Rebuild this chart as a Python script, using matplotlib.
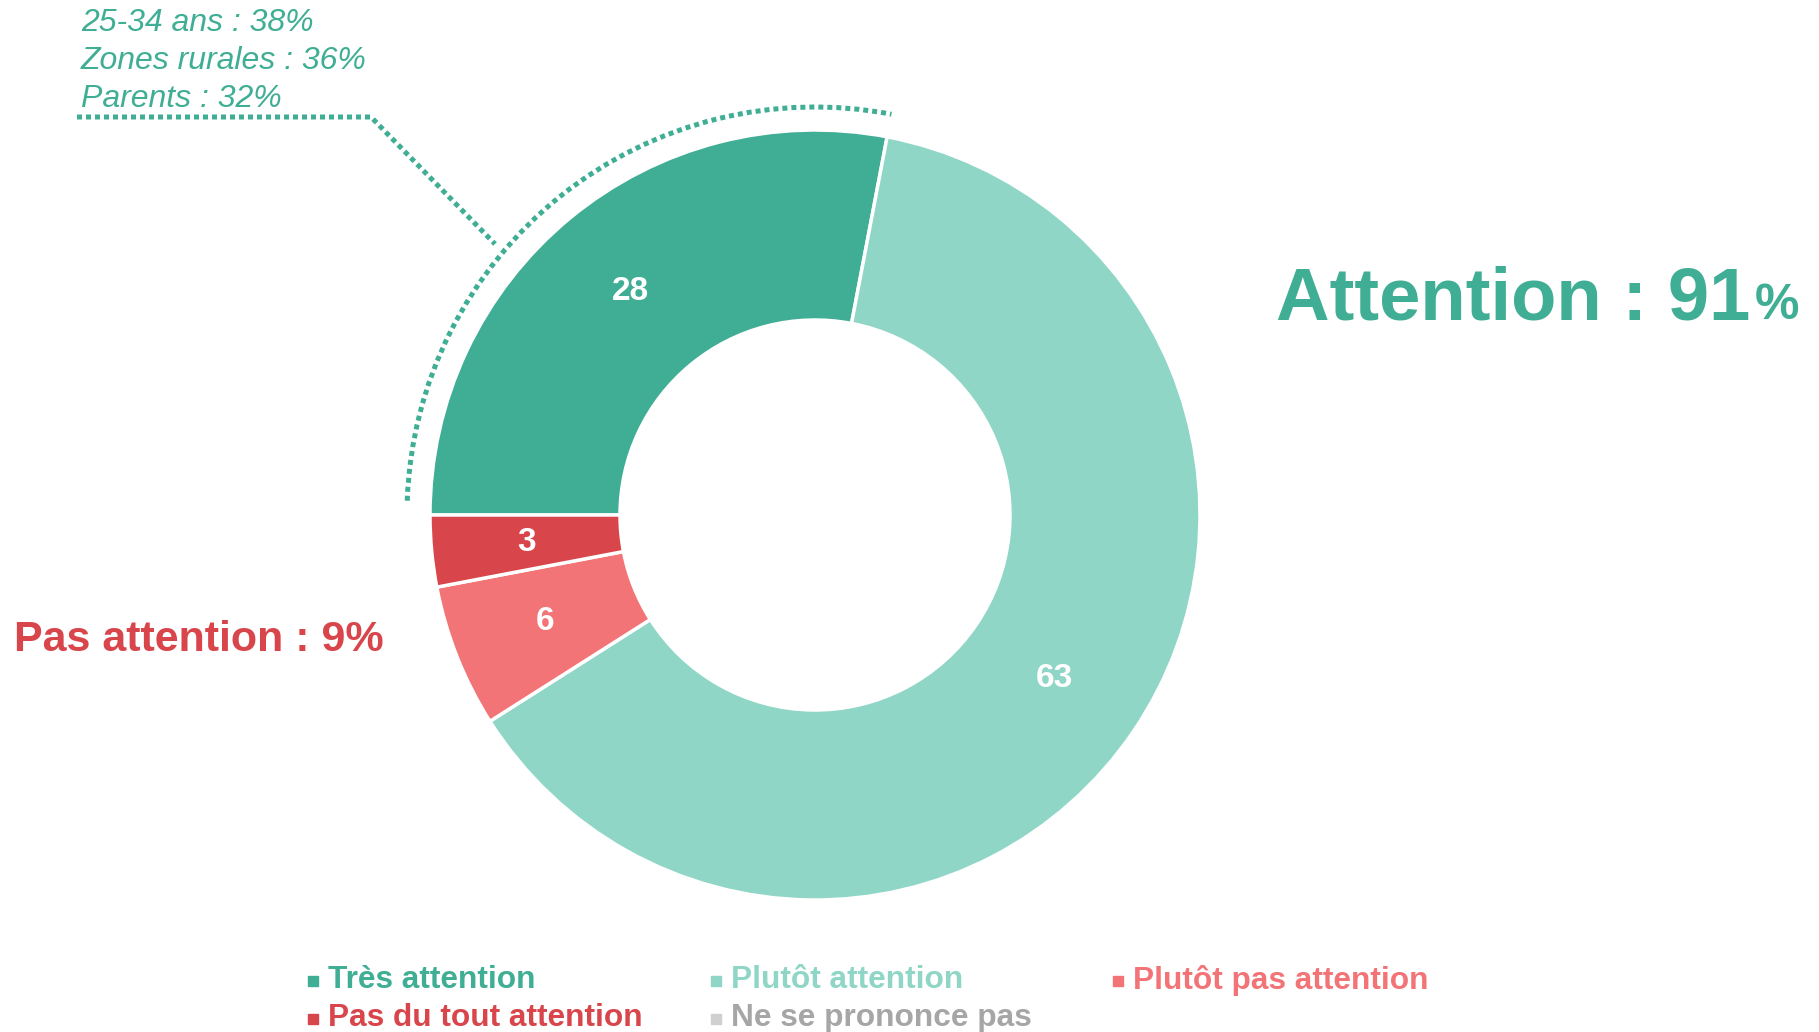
import matplotlib.pyplot as plt
from matplotlib.patches import Arc

plt.rcParams['font.family'] = ['Liberation Sans', 'DejaVu Sans']

# Données
categories = ['Très attention', 'Plutôt attention', 'Plutôt pas attention',
              'Pas du tout attention', 'Ne se prononce pas']
valeurs = [28, 63, 6, 3, 0]
couleurs = ['#3FAE94', '#8FD6C7', '#F27477', '#D8454B', '#D0D0D0']
couleurs_texte = ['#3FAE94', '#8FD6C7', '#F27477', '#D8454B', '#A6A6A6']
sous_groupes = ['25-34 ans : 38%', 'Zones rurales : 36%', 'Parents : 32%']
total_attention = valeurs[0] + valeurs[1]
total_pas_attention = valeurs[2] + valeurs[3]

VERT = couleurs[0]
ROUGE = couleurs[3]

fig = plt.figure(figsize=(18.19, 10.32), dpi=100)
ax = fig.add_axes([0, 0, 1, 1])

# Anneau (on ignore les valeurs nulles)
vals = [v for v in valeurs if v > 0]
cols = [c for v, c in zip(valeurs, couleurs) if v > 0]
centre = (815, 515)
r_ext, epaisseur = 385, 190
ax.pie(vals, colors=cols, startangle=180, counterclock=True,
       center=centre, radius=r_ext, frame=True,
       wedgeprops=dict(width=epaisseur, edgecolor='white', linewidth=2.5),
       autopct=lambda p: f'{p:.0f}',
       pctdistance=(r_ext - epaisseur / 2) / r_ext,
       textprops=dict(color='white', fontsize=24, fontweight='bold'))

ax.set_xlim(0, 1819)
ax.set_ylim(1032, 0)
ax.axis('off')

# Arc pointillé autour de "Très attention"
arc = Arc(centre, 2 * 408, 2 * 408, theta1=182, theta2=180 + valeurs[0] * 3.6,
          color=VERT, lw=3.6, linestyle=(0, (1, 0.8)))
ax.add_patch(arc)
ax.plot([77, 371, 495], [117, 117, 244], color=VERT, lw=3.6,
        linestyle=(0, (1, 0.8)))

for i, s in enumerate(sous_groupes):
    ax.text(81, 23 + 38 * i, s, color=VERT, fontsize=23, fontstyle='italic',
            va='center', ha='left')

# Totaux
t1 = ax.text(1276, 319, f'Attention : {total_attention}', color=VERT,
             fontsize=53.5, fontweight='bold', va='baseline', ha='left')
fig.canvas.draw()
bb = t1.get_window_extent()
x_fin = ax.transData.inverted().transform((bb.x1, bb.y0))[0]
ax.text(x_fin + 4, 319, '%', color=VERT, fontsize=36, fontweight='bold',
        va='baseline', ha='left')

ax.text(14, 640, f'Pas attention : {total_pas_attention}%', color=ROUGE,
        fontsize=31, fontweight='bold', va='center', ha='left')

# Légende
x_carres = [313, 716, 1118]
y_lignes = [980, 1018]
for i, cat in enumerate(categories):
    x = x_carres[i % 3]
    y = y_lignes[i // 3]
    ax.plot(x, y + 1, marker='s', markersize=7, color=couleurs[i], linestyle='none')
    ax.text(x + 15, y, cat, color=couleurs_texte[i], fontsize=22.8,
            fontweight='bold', va='center', ha='left')

fig.savefig('out.png', dpi=100)
